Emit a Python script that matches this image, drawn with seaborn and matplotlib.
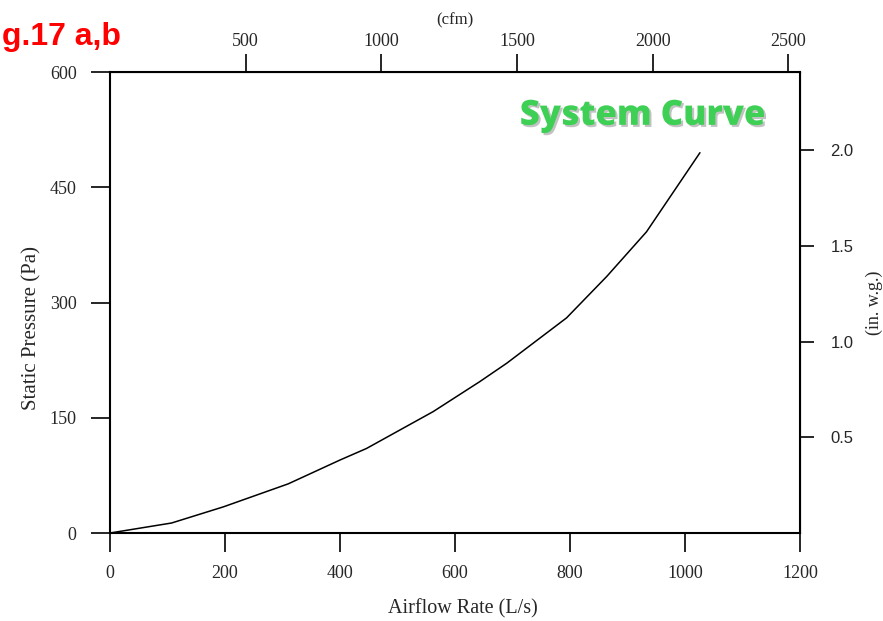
#!/usr/bin/env python3
"""System curve: static pressure vs airflow rate, with cfm / in. w.g. secondary axes."""

import pandas as pd
import matplotlib
matplotlib.use("Agg")
import matplotlib.pyplot as plt
import matplotlib.patheffects as pe
import seaborn as sns

# values
airflow_ls = [0, 107, 197, 310, 400, 446, 562, 643, 690, 794, 864, 933, 1026]
pressure_pa = [0, 13, 34, 64, 95, 110, 158, 197, 221, 280, 334, 392, 495]

x_ticks = [0, 200, 400, 600, 800, 1000, 1200]
y_ticks = [0, 150, 300, 450, 600]
cfm_ticks = [500, 1000, 1500, 2000, 2500]
inwg_ticks = [0.5, 1.0, 1.5, 2.0]

LS_TO_CFM = 2.11888
PA_PER_INWG = 249.09

df = pd.DataFrame({"airflow": airflow_ls, "pressure": pressure_pa})

sns.set_style("ticks")
plt.rcParams["font.family"] = ["Liberation Serif", "DejaVu Serif"]

fig = plt.figure(figsize=(8.83, 6.21), dpi=100)
ax = fig.add_axes([0.1246, 0.1417, 0.7814, 0.7423])

sns.lineplot(data=df, x="airflow", y="pressure", ax=ax, color="black", linewidth=1.1)

ax.set_xlim(0, 1200)
ax.set_ylim(0, 600)
ax.set_xticks(x_ticks)
ax.set_yticks(y_ticks)
ax.set_xlabel("Airflow Rate (L/s)", fontsize=14.5)
ax.set_ylabel("Static Pressure (Pa)", fontsize=15)
ax.xaxis.set_label_coords(0.512, -0.143)
ax.yaxis.set_label_coords(-0.100, 0.445)
ax.tick_params(axis="x", length=14, width=1.4, pad=9, labelsize=13)
ax.tick_params(axis="y", length=14, width=1.4, pad=10, labelsize=13)
for s in ax.spines.values():
    s.set_visible(True)
    s.set_linewidth(1.5)
    s.set_color("black")

# top axis: cfm
top = ax.secondary_xaxis("top", functions=(lambda q: q * LS_TO_CFM, lambda c: c / LS_TO_CFM))
top.set_xticks(cfm_ticks)
top.tick_params(length=13, width=1.4, pad=3, labelsize=13)
top.set_xlabel("(cfm)", fontsize=12, labelpad=6)

# right axis: inches water gauge
right = ax.secondary_yaxis("right", functions=(lambda p: p / PA_PER_INWG, lambda w: w * PA_PER_INWG))
right.set_yticks(inwg_ticks)
right.set_yticklabels([f"{v:.1f}" for v in inwg_ticks], family="Liberation Sans", fontsize=12)
right.tick_params(length=10, width=1.4, pad=12)
right.set_ylabel("(in. w.g.)", fontsize=13, labelpad=9)

ax.text(0.772, 0.905, "System Curve", transform=ax.transAxes, ha="center", va="center",
        fontsize=25, fontweight="heavy", family="Open Sans", color="#3ecf55",
        path_effects=[pe.withSimplePatchShadow(offset=(1.5, -1.5), shadow_rgbFace="#9a9a9a", alpha=0.6)])

fig.text(0.002, 0.928, "g.17 a,b", fontsize=23, fontweight="bold", family="Liberation Sans",
         color="#ff0000", va="baseline", ha="left")

fig.savefig("out.png", dpi=100)
